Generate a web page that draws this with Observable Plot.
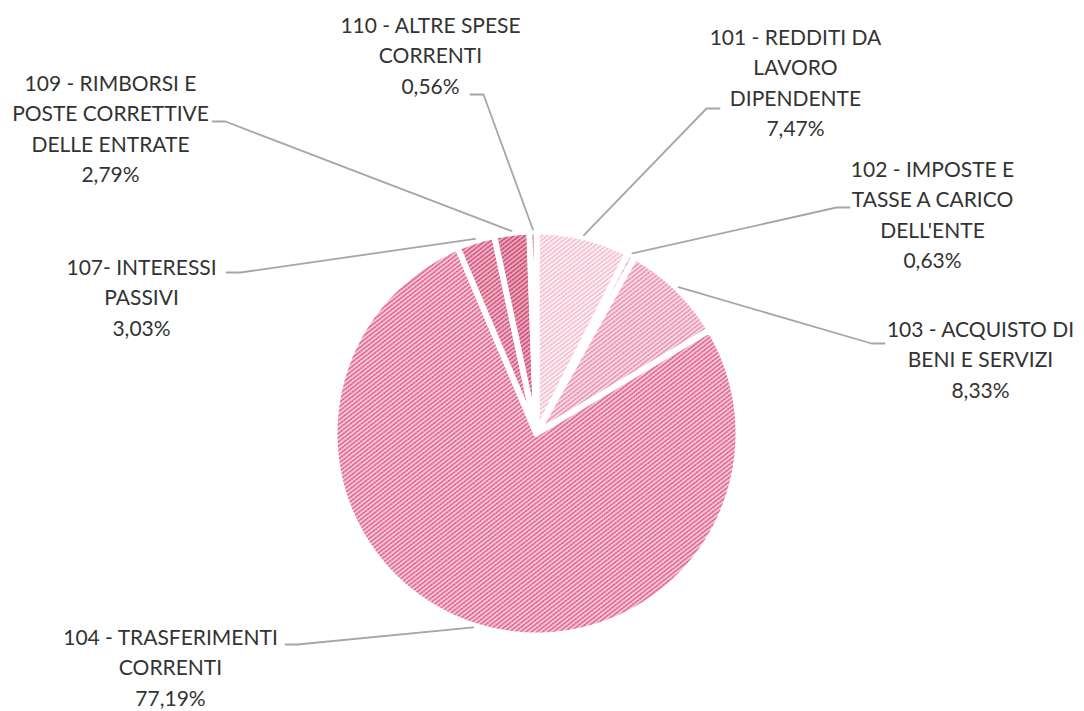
<!DOCTYPE html>
<html><head><meta charset="utf-8">
<script src="https://cdn.jsdelivr.net/npm/d3@7"></script>
<script src="https://cdn.jsdelivr.net/npm/@observablehq/plot@0.6"></script>
<style>html,body{margin:0;padding:0;background:#fff;}</style>
</head><body><div id="chart"></div>
<script>
// ---- data ----
const codes = ["101", "102", "103", "104", "107", "109", "110"];
const categories = [
  "101 - REDDITI DA\nLAVORO\nDIPENDENTE",
  "102 - IMPOSTE E\nTASSE A CARICO\nDELL'ENTE",
  "103 - ACQUISTO DI\nBENI E SERVIZI",
  "104 - TRASFERIMENTI\nCORRENTI",
  "107- INTERESSI\nPASSIVI",
  "109 - RIMBORSI E\nPOSTE CORRETTIVE\nDELLE ENTRATE",
  "110 - ALTRE SPESE\nCORRENTI"
];
const values = [7.47, 0.63, 8.33, 77.19, 3.03, 2.79, 0.56];

// ---- styles / layout ----
const patternBg = ["#fdeff3", "#fbe2e9", "#f9d9e3", "#f6c8d6", "#efb3c5", "#eba8bc", "#d9789a"];
const patternFg = ["#f1b3c6", "#ea98b1", "#e685a3", "#dc4f7e", "#cd416f", "#c63866", "#b5245a"];
const W = 1084, H = 711, CX = 536, CY = 433, R = 202;
// label block: center x, first line center y (pixels)
const labelX = [795, 932, 980, 170, 141, 110, 430];
const labelY = [38, 170, 330, 638, 268, 84, 26];
// leader elbow and end (pixels)
const elbow = [[706,108],[836,207],[871,343],[297,644],[240,272],[225,121],[483,94]];
const leaderEnd = [[719,108],[849,207],[884,343],[285,644],[226,272],[212,121],[470,94]];

const FS = 21, LH = 1.445;
const ux = px => (px - CX) / R;
const uy = py => (CY - py) / R;

const total = d3.sum(values);
let cum = 0;
const slices = values.map((v, i) => {
  const a0 = cum / total * 2 * Math.PI;
  cum += v;
  const a1 = cum / total * 2 * Math.PI;
  const n = Math.max(2, Math.ceil((a1 - a0) / 0.01));
  const pts = [{x: 0, y: 0}];
  for (let k = 0; k <= n; k++) {
    const a = a0 + (a1 - a0) * k / n;
    pts.push({x: Math.sin(a), y: Math.cos(a)});
  }
  pts.push({x: 0, y: 0});
  return {i, a0, a1, mid: (a0 + a1) / 2, pts};
});

const fmt = v => v.toFixed(2).replace(".", ",") + "%";
const labels = values.map((v, i) => ({
  x: ux(labelX[i]),
  y: uy(labelY[i] - 0.72 * FS),
  text: categories[i] + "\n" + fmt(v)
}));

const leaders = [];
slices.forEach((s, i) => {
  const r = 1.01;
  leaders.push({id: i, x: r * Math.sin(s.mid), y: r * Math.cos(s.mid)});
  leaders.push({id: i, x: ux(elbow[i][0]), y: uy(elbow[i][1])});
  leaders.push({id: i, x: ux(leaderEnd[i][0]), y: uy(leaderEnd[i][1])});
});

const svg = Plot.plot({
  width: W, height: H, margin: 0,
  style: {background: "#fff", fontFamily: "Lato, 'Open Sans', sans-serif"},
  x: {domain: [ux(0), ux(W)], axis: null},
  y: {domain: [uy(H), uy(0)], axis: null},
  marks: [
    ...slices.map(s => Plot.line(s.pts, {
      x: "x", y: "y", curve: "linear",
      fill: `url(#pat${s.i})`, stroke: "white", strokeWidth: 6,
      strokeLinejoin: "round"
    })),
    Plot.line(leaders, {x: "x", y: "y", z: "id", stroke: "#a6a6a6", strokeWidth: 1.8, curve: "linear"}),
    Plot.text(labels, {
      x: "x", y: "y", text: "text", textAnchor: "middle", lineAnchor: "top",
      lineHeight: LH, fontSize: FS, fill: "#333333", fontFamily: "Lato, 'Open Sans', sans-serif"
    })
  ]
});

const defs = d3.select(svg).insert("defs", ":first-child");
codes.forEach((c, i) => {
  const p = defs.append("pattern")
    .attr("id", `pat${i}`)
    .attr("patternUnits", "userSpaceOnUse")
    .attr("width", 6).attr("height", 3.4)
    .attr("patternTransform", "rotate(-38)");
  p.append("rect").attr("width", 6).attr("height", 3.4).attr("fill", patternBg[i]);
  p.append("rect").attr("y", 1).attr("width", 6).attr("height", 1.3).attr("fill", patternFg[i]).attr("opacity", 0.7);
  p.append("rect").attr("x", 0).attr("y", 1).attr("width", 1.5).attr("height", 1.3).attr("fill", patternFg[i]);
  p.append("rect").attr("x", 3).attr("y", 1).attr("width", 1.5).attr("height", 1.3).attr("fill", patternFg[i]);
});

document.getElementById("chart").appendChild(svg);
</script>
</body></html>
